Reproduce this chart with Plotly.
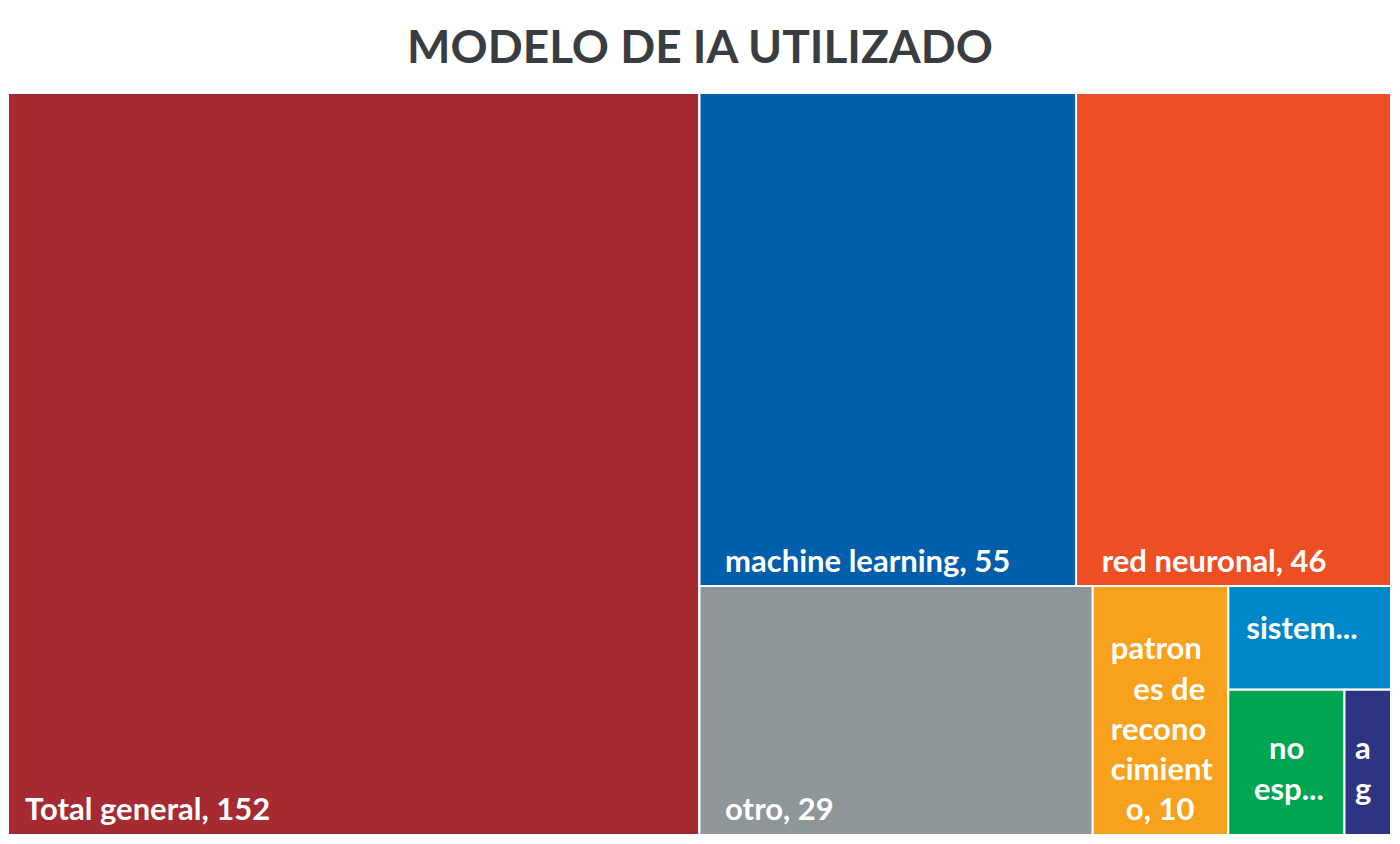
import plotly.graph_objects as go

# Leaf data
labels = ["Total general", "machine learning", "red neuronal", "otro",
          "patrones de reconocimiento", "sistem...", "no esp...", "a g"]
values = [152, 55, 46, 29, 10, 5, 5, 2]
shown_lines = [["Total general, 152"], ["machine learning, 55"], ["red neuronal, 46"], ["otro, 29"],
               ["patron", "es de", "recono", "cimient", "o, 10"], ["sistem..."], ["no", "esp..."], ["a", "g"]]
colors = ["#A52A31", "#005EAB", "#EE4E24", "#8E969A", "#F8A11D", "#0087C9", "#00A551", "#2E3481"]

# Grouping used only to reproduce the tile arrangement of the original chart
group_ids = ["G1", "R1", "R2", "G3", "G4"]
group_parents = ["", "G1", "G1", "R2", "G3"]
leaf_parents = ["", "R1", "R1", "R2", "R2", "G3", "G4", "G4"]

# label indentation (non-breaking spaces) per line, to mimic the original label placement
indent = [[2], [3], [3], [3], [2, 5, 2, 2, 4], [2], [5, 3], [1, 1]]
NB = "\u00a0"
leaf_text = []
for i, lines in enumerate(shown_lines):
    body = "<b>" + "<br>".join(NB * n + ln for n, ln in zip(indent[i], lines)) + "</b>"
    if i == 5:
        leaf_text.append(body + "<br>" + NB)
    elif i in (6, 7):
        leaf_text.append(body + "<br><sup>" + NB + "</sup>")
    else:
        leaf_text.append(body + "<sub>" + NB + "</sub>")

ids = labels + group_ids
fig = go.Figure(go.Treemap(
    ids=ids,
    labels=labels + [""] * len(group_ids),
    parents=leaf_parents + group_parents,
    values=values + [0] * len(group_ids),
    branchvalues="remainder",
    text=leaf_text + [""] * len(group_ids),
    texttemplate="%{text}",
    textposition="bottom left",
    sort=False,
    marker=dict(colors=colors + ["white"] * len(group_ids),
                line=dict(color="white", width=2),
                pad=dict(t=0, l=0, r=0, b=0)),
    tiling=dict(packing="slice-dice", pad=0),
    pathbar=dict(visible=False),
    textfont=dict(family="Lato", size=31, color="white"),
    hoverinfo="skip",
))
fig.update_layout(
    title=dict(text="<b>MODELO DE IA UTILIZADO</b>", x=0.5, xanchor="center",
               y=0.953, yanchor="middle",
               font=dict(family="Lato", size=46, color="#3A3D40")),
    margin=dict(l=0, r=1, t=85, b=1),
    paper_bgcolor="white",
)
fig.write_html("out.html")
